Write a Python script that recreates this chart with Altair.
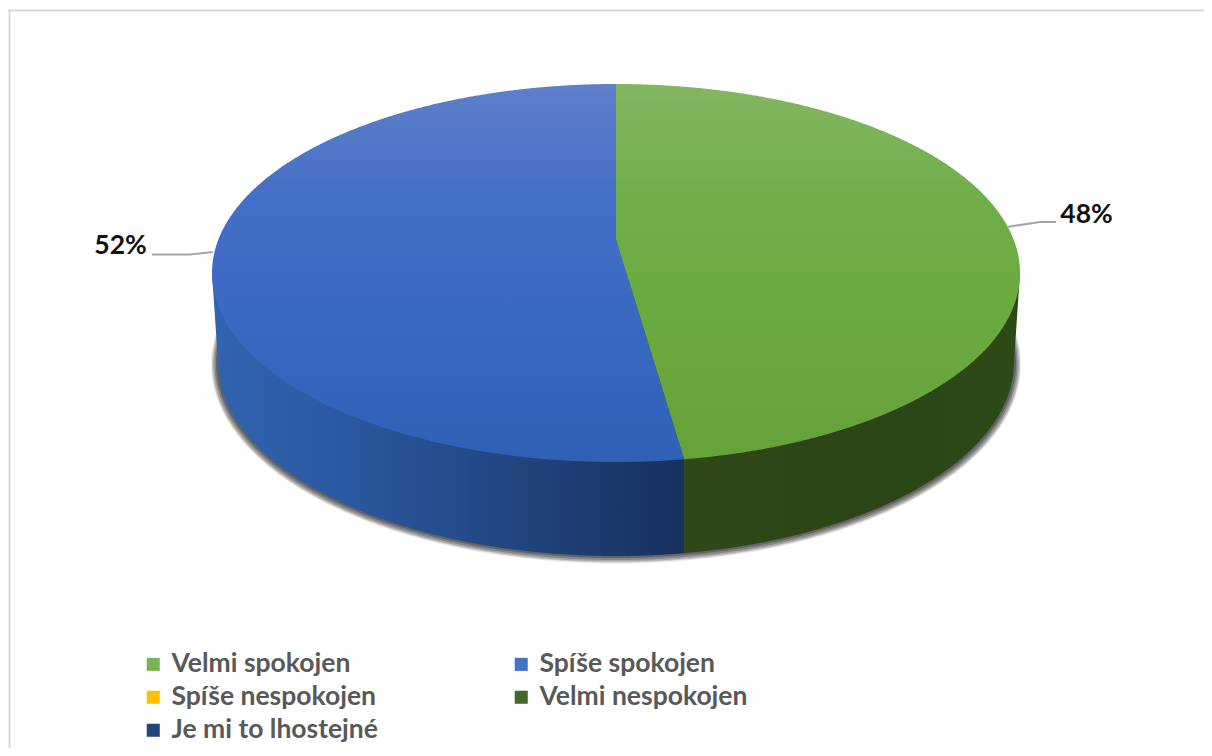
import numpy as np
import pandas as pd
import altair as alt

categories = ["Velmi spokojen", "Spíše spokojen", "Spíše nespokojen", "Velmi nespokojen", "Je mi to lhostejné"]
legend_colors = ["#78B354", "#4472C4", "#FFC000", "#43682B", "#264478"]
shares = [47.75, 52.25]

W, H = 1196, 740
xs = alt.Scale(domain=[8, 8 + W], range=[0, W], nice=False, zero=False)
ys = alt.Scale(domain=[8, 8 + H], range=[0, H], nice=False, zero=False)
X = lambda f="x": alt.X(f"{f}:Q", scale=xs, axis=None)
Y = lambda f="y": alt.Y(f"{f}:Q", scale=ys, axis=None)

# top ellipse and its perspective apex
cx, cy, a, b = 616.0, 273.0, 404.0, 189.0
apex_y = 239.0
top, bot = cy - b, cy + b
t_far = apex_y - top
t_near = bot - apex_y
p = (t_near - t_far) / (t_near + t_far)
B = t_far * (1 + p)
A = a * np.sqrt(1 - p ** 2)
theta = shares[0] / 100 * 2 * np.pi
w = 1 + p * np.cos(theta)
split_x = cx + A * np.sin(theta) / w
split_y = apex_y - B * np.cos(theta) / w

# lower (side) ellipse
lcy, la, lb = 362.0, 398.0, 194.0


def grid(x0, x1, n=500):
    t = np.linspace(-np.pi / 2, np.pi / 2, 2 * n + 1)
    g = cx + a * np.sin(t)
    g = np.concatenate([g, [x0, x1, cx]])
    return np.unique(g[(g >= x0) & (g <= x1)])


def half(x, c, aa, bb, sign):
    s = np.sqrt(np.clip(1 - ((x - cx) / aa) ** 2, 0, 1))
    return c + sign * bb * s


def radial(x):
    return apex_y + (x - cx) * (split_y - apex_y) / (split_x - cx)


def lower_side(x):
    y = half(x, lcy, la, lb, 1)
    out = np.abs(x - cx) > la
    y[out] = lcy - (np.abs(x[out] - cx) - la) / (a - la) * (lcy - cy)
    return y


def grad(stops, vertical=True):
    return alt.LinearGradient(
        gradient="linear",
        x1=0, x2=0 if vertical else 1, y1=0, y2=1 if vertical else 0,
        stops=[alt.GradientStop(color=c, offset=o) for o, c in stops],
    )


def area(df, fill, **kw):
    return alt.Chart(df).mark_area(fill=fill, stroke=None, **kw).encode(x=X(), y=Y(), y2=alt.Y2("y2:Q"))


layers = []

# white page and frame
frame_color = "#D9D9D9"
layers.append(alt.Chart(pd.DataFrame({"x": [8.0], "x2": [1204.0], "y": [10.5]}))
              .mark_rule(color=frame_color, strokeWidth=2).encode(x=X(), x2="x2:Q", y=Y()))
layers.append(alt.Chart(pd.DataFrame({"x": [9.5], "y": [10.0], "y2": [748.0]}))
              .mark_rule(color=frame_color, strokeWidth=2).encode(x=X(), y=Y(), y2="y2:Q"))

# soft shadow
for da, db, dc, op in [(7, 5, 2.5, 0.1), (6, 4, 2.5, 0.16), (5, 3, 2.5, 0.22), (3.5, 2, 2, 0.3), (2, 1, 1, 0.4)]:
    aa, bb, cc = la + da, lb + db, lcy + dc
    g = np.unique(cx + aa * np.sin(np.linspace(-np.pi / 2, np.pi / 2, 801)))
    df = pd.DataFrame({"x": g, "y": half(g, cc, aa, bb, -1), "y2": half(g, cc, aa, bb, 1)})
    layers.append(area(df, "#333333", opacity=op))

# side walls
gb = grid(cx - a, split_x)
layers.append(area(pd.DataFrame({"x": gb, "y": cy, "y2": lower_side(gb)}),
                   grad([(0, "#3163AF"), (0.25, "#2C5AA2"), (0.55, "#234A88"), (0.8, "#1D3C70"), (1, "#17305F")], False)))
gg = grid(split_x, cx + a)
layers.append(area(pd.DataFrame({"x": gg, "y": cy, "y2": lower_side(gg)}),
                   grad([(0, "#30491B"), (0.5, "#2B4516"), (1, "#2D4A18")], False)))

# top face
gb = grid(cx - a, split_x)
yb = half(gb, cy, a, b, -1)
yb[gb > cx] = radial(gb[gb > cx])
layers.append(area(pd.DataFrame({"x": gb, "y": yb, "y2": half(gb, cy, a, b, 1)}),
                   grad([(0, "#5F80C9"), (0.3, "#456FC6"), (0.6, "#3A69C2"), (1, "#2F60B6")])))
gg = grid(cx, cx + a)
y2g = half(gg, cy, a, b, 1)
inner = gg < split_x
y2g[inner] = radial(gg[inner])
layers.append(area(pd.DataFrame({"x": gg, "y": half(gg, cy, a, b, -1), "y2": y2g}),
                   grad([(0, "#84B661"), (0.3, "#70AE49"), (0.6, "#6AAB3F"), (1, "#65A23A")])))

# leader lines
leader_x = [[1007, 1040, 1056], [152, 190, 213]]
leader_y = [[227, 222, 222], [254.5, 254.5, 252]]
for lx, ly in zip(leader_x, leader_y):
    layers.append(alt.Chart(pd.DataFrame({"x": lx, "y": ly, "i": range(3)}))
                  .mark_line(color="#A6A6A6", strokeWidth=2).encode(x=X(), y=Y(), order="i:Q"))

# data labels
labels = pd.DataFrame({"x": [1086.5, 120.5], "y": [215.0, 246.0],
                       "t": [f"{round(s)}%" for s in shares]})
layers.append(alt.Chart(labels).mark_text(font="Lato", fontWeight="bold", fontSize=26.5, color="#111111",
                                          align="center", baseline="middle")
              .encode(x=X(), y=Y(), text="t:N"))

# legend
leg = pd.DataFrame({"x": [0.0] * 5, "y": [0.0] * 5, "c": categories})
layers.append(alt.Chart(leg).mark_square(opacity=0).encode(
    x=alt.value(-50), y=alt.value(-50),
    color=alt.Color("c:N", scale=alt.Scale(domain=categories, range=legend_colors), legend=alt.Legend(
        title=None, orient="none", legendX=132, legendY=643, columns=2, direction="horizontal",
        symbolType="square", symbolSize=170, symbolOpacity=1, symbolStrokeWidth=0,
        labelFont="Lato", labelFontWeight="bold", labelFontSize=26.5, labelColor="#595959",
        labelLimit=400, labelOffset=5, rowPadding=6, columnPadding=130, padding=0,
    )),
))

chart = alt.layer(*layers).properties(
    width=W, height=H, padding=0, background="white",
    autosize=alt.AutoSizeParams(type="none"),
).configure_view(stroke=None)

chart.save("out.html", embed_options={"renderer": "svg", "actions": False})
